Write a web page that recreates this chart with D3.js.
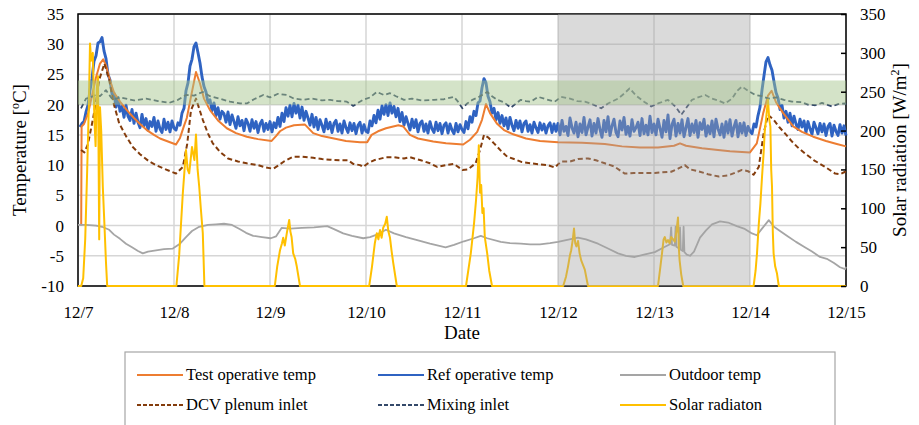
<!DOCTYPE html>
<html><head><meta charset="utf-8">
<script src="https://cdn.jsdelivr.net/npm/d3@7"></script>
<style>
body{margin:0;background:#fff}
svg text{font-family:"Liberation Serif","Times New Roman",Tinos,"DejaVu Serif",serif !important}
</style>
</head><body>
<svg id="c" width="919" height="425"></svg>
<script>
// ---------- DATA (hours since 12/7 00:00) ----------
const dayLabels = ["12/7","12/8","12/9","12/10","12/11","12/12","12/13","12/14","12/15"];
const tempTicks = [-10,-5,0,5,10,15,20,25,30,35];
const solarTicks = [0,50,100,150,200,250,300,350];
const comfortBand = [20,24];
const shadedDays = [5,7]; // 12/12 .. 12/14

const testOp = [[0.8,0],[0.9,16.4],[1.5,16.8],[2.5,18.5],[3.5,21.5],[4.5,24.5],[5.5,26.8],[6.3,27.5],[7,26.5],[8,24],[9,22],[10.5,20.5],[12.2,19.1],[14,17.8],[15.5,16.8],[17.2,15.8],[19,15],[20.5,14.4],[22.5,13.9],[24.5,13.4],[25.5,14.5],[26.5,16.5],[27.2,17.8],[28.3,21.5],[29.5,25.4],[30.5,23.5],[31.5,21],[33,19.1],[35,17.4],[37.2,16.1],[39.5,15.3],[42.2,14.7],[45,14.3],[48.4,14.0],[49.5,14.8],[50.5,15.6],[52,16.2],[54,16.6],[56.75,16.7],[58.8,15.3],[61,14.8],[64,14.4],[67,14.0],[70.5,13.8],[72.3,13.8],[73.4,15.0],[75,15.6],[77,16.1],[80.1,16.6],[81.3,16.4],[83,15.0],[85,14.4],[88.8,13.9],[92,13.6],[96.3,13.4],[98,14.2],[99.8,15.5],[101,17.5],[102,20.1],[103,18.6],[104.7,16.9],[106.5,15.8],[108.8,15.1],[112,14.4],[115.5,14.0],[120,13.8],[126,13.7],[131.7,13.5],[136,13.1],[140.5,12.9],[145,12.9],[149,13.2],[150.5,13.6],[152,13.2],[156,12.8],[160,12.5],[163,12.3],[168,12.1],[169.7,13.6],[171.3,18.6],[172.5,21.5],[173.4,22.3],[174.5,20.4],[176.3,18.6],[178.8,16.4],[181,15.5],[183.8,14.7],[187,14.0],[189.7,13.5],[192,13.1]];

// Ref operative temp, half-hourly readings from 0.5 h to 192 h
const refOpStart = 0.5, refOpStep = 0.5;
const refOp = [
16.3,16.9,17.2,18.8,19.9,22.4,24.3,27.2,28.1,30.2,30.4,31.1,28.9,27.6,25.0,24.1,21.8,21.9,19.6,21.2,18.9,19.7,17.9,19.9,18.1,17.4,19.2,16.9,18.6,17.1,16.2,18.4,16.5,17.7,15.8,17.2,16.4,17.9,15.6,17.3,16.0,15.4,17.6,15.9,17.1,15.5,17.3,16.1,
15.8,17.0,16.6,18.6,19.4,22.3,23.6,26.4,27.5,29.6,30.2,28.6,26.9,24.6,23.0,22.1,20.3,20.8,19.0,20.3,18.2,19.5,17.6,18.9,18.5,17.1,18.8,16.7,18.3,17.2,16.1,18.0,16.5,17.4,15.7,17.6,16.9,15.6,17.5,16.1,17.2,15.4,16.8,17.4,15.6,16.9,15.9,17.2,
15.5,17.0,16.2,17.9,16.4,18.6,17.2,19.5,18.1,19.9,18.0,20.2,18.6,19.9,17.8,19.6,17.4,18.9,17.8,16.6,18.4,16.3,17.9,15.9,17.5,16.6,15.5,17.6,16.0,17.1,15.4,16.9,17.4,15.6,16.8,15.3,17.3,16.2,15.4,17.0,15.7,16.9,15.2,16.6,17.1,15.3,16.7,15.6,
15.4,17.3,16.5,18.2,17.0,19.1,17.6,19.8,18.4,20.0,18.2,20.3,18.6,19.7,18.0,19.4,17.2,18.7,16.6,18.0,16.9,15.8,17.6,16.2,17.5,15.5,16.9,17.3,15.6,16.8,15.3,17.2,16.0,15.4,17.1,15.7,16.9,15.2,16.6,17.0,15.3,16.8,15.8,15.2,16.9,15.5,16.7,15.9,
15.4,17.2,16.0,18.0,17.1,18.9,18.2,20.3,20.6,22.8,24.3,23.6,21.4,20.5,18.6,19.4,17.5,18.7,16.9,18.2,16.5,17.8,16.0,17.9,16.6,15.7,17.4,16.1,17.3,15.5,16.9,17.3,15.6,16.7,15.3,17.1,16.2,15.4,17.0,15.8,16.8,15.3,16.5,17.0,15.4,16.8,15.6,16.9,
15.0,17.4,15.6,16.4,14.9,17.8,16.2,15.3,17.1,14.7,16.8,15.4,17.9,15.0,16.3,17.5,14.8,16.9,15.3,17.7,15.9,14.6,17.4,15.5,18.0,14.9,16.5,17.6,15.4,14.7,17.3,15.8,17.9,15.1,16.4,14.8,17.5,15.6,16.2,17.1,14.9,17.7,15.2,16.6,15.0,18.1,15.4,16.8,
15.0,17.6,16.1,14.6,17.4,15.5,18.3,14.4,16.7,17.6,14.8,16.9,15.3,17.5,14.7,16.2,17.7,14.9,16.8,15.4,17.4,14.6,17.0,15.9,17.6,14.8,16.5,15.2,17.3,14.7,17.6,16.0,15.0,16.8,14.6,17.2,15.3,17.5,14.8,16.3,17.4,14.7,16.9,15.3,17.0,14.9,16.4,15.6,
15.2,16.8,16.3,18.2,19.6,22.4,24.8,27.1,27.8,26.6,25.7,23.8,22.0,21.1,19.2,19.9,17.8,18.9,17.1,18.6,16.5,18.1,16.8,15.9,17.6,16.3,17.3,15.4,17.2,16.0,15.1,17.1,16.2,15.2,16.9,15.5,16.8,14.9,16.4,16.9,14.8,16.6,15.6,14.9,16.7,15.3,16.5,14.9
];

const outdoor = [[0,0.1],[2,0.1],[4.5,0],[6,-0.2],[7.8,-0.7],[9,-1.5],[10.5,-2.2],[12,-3.0],[13.5,-3.6],[15,-4.2],[16.2,-4.6],[17.5,-4.3],[19.5,-4.1],[21.5,-3.9],[23.7,-3.8],[25.5,-3.0],[27,-1.9],[28.5,-0.9],[30.3,-0.2],[32.5,0.1],[34.5,0.2],[36.5,0.3],[38.5,0.1],[40.5,-0.6],[42,-1.2],[43.8,-1.7],[46,-1.9],[48.2,-2.1],[49.5,-1.8],[50.9,-0.4],[53,-0.5],[56,-0.4],[59,-0.3],[62.3,-0.1],[64,-0.6],[66.3,-1.3],[68.5,-1.7],[71.3,-2.1],[73,-1.9],[74.7,-1.5],[77,-0.7],[79,-1.3],[82,-1.9],[84.8,-2.4],[88,-3.0],[91.9,-3.6],[94,-3.2],[96.5,-2.6],[99,-2.1],[100.7,-1.7],[102.3,-2.1],[105.7,-2.7],[108,-2.9],[110.7,-3.0],[113,-3.1],[115.5,-3.1],[118,-2.9],[120,-2.7],[122,-2.4],[125,-2.0],[127,-2.3],[130,-3.0],[132.5,-3.8],[135,-4.6],[137,-5.0],[139.2,-5.2],[141.5,-4.8],[144.2,-4.4],[146.5,-3.6],[148,-3.1],[148.3,-0.3],[148.5,-3.2],[149.2,-3.3],[149.4,-0.2],[149.6,-3.5],[150.3,-3.8],[150.5,-0.3],[150.7,-4.0],[151.2,-4.2],[151.4,-0.2],[151.6,-4.4],[152.2,-4.8],[153,-5.0],[154,-4.3],[155.5,-2.0],[157,-0.8],[158.5,0.2],[160.5,0.7],[162.5,0.5],[164.7,-0.1],[166.5,-0.5],[168.5,-1.3],[169.7,-1.6],[171,-0.5],[172.7,0.9],[174,-0.2],[175.5,-0.9],[177.5,-1.8],[179.5,-2.7],[181.5,-3.5],[183.5,-4.3],[185.5,-5.2],[187.2,-5.5],[189,-6.2],[190.5,-6.9],[191.8,-7.2],[192,-6.8]];

const dcvInlet = [[0.75,12.5],[1.6,12.1],[2.5,13.5],[3.7,17.5],[4.5,20.5],[5.3,24.1],[6.6,26.8],[7.8,24.1],[9,20],[10.3,16.9],[12,14.8],[13.7,13.0],[15.5,11.8],[17.8,10.6],[19.5,10.0],[21.2,9.5],[23,9.0],[24.5,8.6],[26.2,9.7],[27.3,13.5],[28.25,19.1],[29.5,21.0],[31.2,17.5],[32.5,15.2],[33.7,13.6],[35.5,12.2],[37.5,11.1],[40,10.6],[42.2,10.3],[45,10.0],[47,9.6],[48.8,9.4],[50,9.9],[51.5,10.6],[53.8,11.4],[56,11.4],[58.8,11.2],[61,11.0],[63,10.9],[65.5,10.8],[67.5,10.8],[68.8,10.2],[70.5,10.0],[71.3,9.7],[72.5,10.3],[74,10.8],[77,11.3],[79,11.3],[81.5,11.1],[83,11.3],[85.7,10.8],[88,10.3],[89.8,9.7],[92,10.0],[94,10.2],[96.1,9.2],[97.5,9.3],[99.4,10.3],[100.5,12.5],[101.5,15.0],[102.5,14.6],[104,13.6],[105.7,12.4],[107.3,11.4],[109,11.0],[111,10.5],[113.2,10.3],[115.5,10.1],[117.5,10.0],[119.2,9.6],[120.8,10.6],[123,10.6],[125,11.0],[127.5,11.1],[129.5,10.8],[131.7,10.3],[134,9.8],[136.7,8.6],[139,8.7],[141.5,8.7],[144.2,8.7],[146,8.8],[148.3,8.9],[150,9.4],[151.7,10.0],[153,9.3],[155,9.0],[157.5,8.5],[160.2,8.1],[162.5,8.3],[164.5,8.8],[166,9.2],[167.5,9.0],[168.9,8.4],[170.2,9.7],[171.4,15.2],[172.5,18.3],[173.9,17.5],[175.3,16.3],[176.8,15.2],[178.5,13.9],[180,12.9],[181.8,11.9],[184,10.8],[186.8,9.7],[189.3,8.6],[190.5,8.5],[191.8,8.9],[192,9.0]];

const mixingInlet = [[0.75,19.4],[2,21.0],[3,21.2],[4.5,21.6],[5.5,21.4],[7,22.4],[8.7,20.8],[10.5,21.2],[12,21.0],[14,20.7],[17,21.0],[20,20.6],[22.8,20.3],[25,20.8],[27,21.6],[29,21.5],[31.2,22.1],[33,21.4],[35.3,21.0],[38,20.5],[40.5,20.2],[42.2,20.2],[44,20.9],[46.3,21.6],[48,21.2],[50,21.8],[52.2,21.6],[54,21.0],[56.3,20.8],[58.5,21.0],[61,20.7],[63,20.8],[65,20.6],[67.2,20.5],[68.8,19.8],[70,20.3],[71.3,20.8],[73,21.2],[74.7,22.1],[76.5,21.6],[78,21.9],[79.5,21.4],[81.5,20.8],[83.5,21.0],[86,20.7],[89,20.8],[91.5,20.9],[94,21.3],[95,20.5],[96.1,19.4],[97.3,20.2],[98.6,20.8],[100,21.2],[102.3,22.1],[103.5,21.4],[104.8,20.8],[106.5,20.4],[108.2,19.5],[109.5,20.2],[110.7,20.8],[112,20.6],[113.2,20.5],[115,21.3],[117,20.9],[119.2,20.5],[120.8,21.3],[123,21.0],[124.8,20.6],[126.7,20.5],[128.5,20.1],[130.8,19.4],[132.5,20.2],[135,21.0],[136.5,21.8],[137.9,22.7],[139.5,21.5],[141.5,20.5],[143.3,19.7],[145,20.2],[147.5,20.8],[149.5,19.6],[150.8,18.3],[152,19.4],[153.5,20.8],[155,21.2],[156.8,21.6],[158.5,21.0],[160,20.7],[161.8,20.2],[163.5,21.0],[164.8,22.3],[166,23.0],[167.5,22.3],[169.3,21.6],[171,21.4],[172.7,21.0],[174.5,21.2],[176.5,20.8],[178.5,20.5],[181,20.4],[182.5,20.0],[184.3,19.9],[186,20.3],[188.5,19.7],[190,20.1],[191.8,20.2],[192,20.0]];

const solar = [[0,0],[0.8,0],[1.3,10],[1.8,60],[2.3,150],[2.7,230],[3.0,312],[3.3,290],[3.7,300],[4.1,215],[4.4,180],[4.7,255],[5.0,270],[5.3,60],[5.5,230],[5.8,200],[6.2,128],[6.6,80],[7.0,30],[7.3,0],
[24.6,0],[25.3,40],[26.2,119],[27,175],[27.4,150],[27.8,145],[28.5,179],[29.1,162],[29.5,195],[29.9,150],[30.3,128],[30.7,100],[31.2,68],[31.6,0],
[49.2,0],[49.8,25],[50.5,46],[51,55],[51.3,62],[51.7,52],[52.2,68],[52.8,85],[53.1,70],[53.4,63],[53.8,42],[54.3,35],[54.7,25],[55.5,0],
[72.8,0],[73.5,25],[74.2,55],[74.7,68],[75.1,60],[75.5,72],[75.9,62],[76.3,75],[76.8,80],[77.2,89],[77.6,70],[78,62],[78.4,45],[78.8,30],[79.7,0],
[97.0,0],[98.2,42],[99.0,80],[99.5,110],[99.9,140],[100.2,181],[100.5,120],[100.8,130],[101.1,94],[101.4,100],[101.7,63],[102.3,42],[102.8,20],[103.5,0],
[121.3,0],[122.0,12],[122.5,25],[123.0,40],[123.3,46],[123.7,60],[124.0,74],[124.3,55],[124.6,51],[125.0,58],[125.4,42],[125.8,33],[126.7,21],[127.5,0],
[145.0,0],[145.6,25],[146.0,42],[146.4,60],[146.7,63],[147.1,56],[147.5,59],[147.9,55],[148.3,63],[148.8,60],[149.2,57],[149.6,70],[150.0,88],[150.2,50],[150.4,33],[150.8,15],[151.3,0],
[168.9,0],[169.4,20],[169.75,42],[170.2,80],[170.6,106],[171.0,140],[171.4,171],[171.7,200],[172.0,214],[172.3,230],[172.5,240],[172.8,215],[173.1,205],[173.3,150],[173.5,128],[173.7,70],[173.9,42],[174.3,25],[174.75,16],[175.2,0],[192,0]];

const legendItems = [
  {name:"Test operative temp", key:"test"},
  {name:"Ref operative temp", key:"ref"},
  {name:"Outdoor temp", key:"out"},
  {name:"DCV plenum inlet", key:"dcv"},
  {name:"Mixing inlet", key:"mix"},
  {name:"Solar radiaton", key:"sol"}
];

// ---------- STYLE ----------
const style = {
  test:{color:"#ED7D31", width:2, dash:null},
  ref:{color:"#2F63C2", width:2.9, dash:null},
  out:{color:"#A5A5A5", width:1.8, dash:null},
  dcv:{color:"#843C0C", width:2, dash:"5,3"},
  mix:{color:"#34496A", width:1.8, dash:"5,3"},
  sol:{color:"#FFC000", width:2, dash:null}
};
const FONT = '"Liberation Serif","Times New Roman",Tinos,"DejaVu Serif",serif';

// ---------- LAYOUT ----------
const svg = d3.select("#c");
const L = 78, R = 846, T = 14, B = 286;
const x = d3.scaleLinear().domain([0,192]).range([L,R]);
const y = d3.scaleLinear().domain([-10,35]).range([B,T]);
const y2 = d3.scaleLinear().domain([0,350]).range([B,T]);

// gridlines
svg.append("g").selectAll("line").data(tempTicks).join("line")
  .attr("x1",L).attr("x2",R).attr("y1",d=>y(d)).attr("y2",d=>y(d))
  .attr("stroke","#d6d6d6").attr("stroke-width",1.5);
svg.append("g").selectAll("line").data(dayLabels).join("line")
  .attr("x1",(d,i)=>x(i*24)).attr("x2",(d,i)=>x(i*24)).attr("y1",T).attr("y2",B)
  .attr("stroke","#d6d6d6").attr("stroke-width",1.5);

const lineT = d3.line().x(d=>x(d[0])).y(d=>y(d[1]));
const lineS = d3.line().x(d=>x(d[0])).y(d=>y2(d[1]));

function draw(data, gen, st){
  svg.append("path").datum(data).attr("d",gen).attr("fill","none")
    .attr("stroke",st.color).attr("stroke-width",st.width)
    .attr("stroke-dasharray",st.dash).attr("stroke-linejoin","round");
}
svg.append("rect").attr("x",L).attr("y",T).attr("width",R-L).attr("height",B-T)
  .attr("fill","none").attr("stroke","#000").attr("stroke-width",1.5);

const refPairs = refOp.map((v,i)=>[refOpStart+i*refOpStep, v]);
draw(refPairs, lineT, style.ref);
draw(testOp, lineT, style.test);
draw(outdoor, lineT, style.out);
draw(dcvInlet, lineT, style.dcv);
draw(mixingInlet, lineT, style.mix);
draw(solar, lineS, style.sol);

svg.append("rect").attr("x",x(shadedDays[0]*24)).attr("width",x(shadedDays[1]*24)-x(shadedDays[0]*24))
  .attr("y",T).attr("height",B-T).attr("fill","#a3a3a3").attr("opacity",0.4);
svg.append("rect").attr("x",L).attr("width",R-L)
  .attr("y",y(comfortBand[1])).attr("height",y(comfortBand[0])-y(comfortBand[1]))
  .attr("fill","#a6c48c").attr("opacity",0.48);

// axes
const fs = 17;
const axL = svg.append("g").attr("transform",`translate(${L},0)`)
  .call(d3.axisLeft(y).tickValues(tempTicks).tickSize(0).tickPadding(14).tickFormat(d3.format("d")));
const axR = svg.append("g").attr("transform",`translate(${R},0)`)
  .call(d3.axisRight(y2).tickValues(solarTicks).tickSizeInner(-5).tickSizeOuter(0).tickPadding(14));
const axB = svg.append("g").attr("transform",`translate(0,${B})`)
  .call(d3.axisBottom(x).tickValues(dayLabels.map((d,i)=>i*24)).tickSize(0).tickPadding(20)
  .tickFormat((d,i)=>dayLabels[i]));
[axL,axR,axB].forEach(a=>{
  a.attr("font-family",FONT);
  a.select(".domain").remove();
  a.selectAll("text").attr("font-size",fs).attr("font-family",FONT).attr("fill","#000");
  a.selectAll("line").attr("stroke","#000").attr("stroke-width",1.5);
});
axL.selectAll("text").text(d=> d<0 ? "-"+Math.abs(d) : d);

// titles
const t1 = svg.append("text").attr("transform",`translate(26,${(T+B)/2}) rotate(-90)`)
  .attr("text-anchor","middle").attr("font-size",19).attr("font-family",FONT);
t1.append("tspan").text("Temperature [");
t1.append("tspan").text("o").attr("font-size",12).attr("dy",-7);
t1.append("tspan").text("C]").attr("dy",7);
const t2 = svg.append("text").attr("transform",`translate(906,${(T+B)/2}) rotate(-90)`)
  .attr("text-anchor","middle").attr("font-size",19).attr("font-family",FONT);
t2.append("tspan").text("Solar radiation [W/m");
t2.append("tspan").text("2").attr("font-size",12).attr("dy",-7);
t2.append("tspan").text("]").attr("dy",7);
svg.append("text").attr("x",(L+R)/2).attr("y",339).attr("text-anchor","middle")
  .attr("font-size",19).attr("font-family",FONT).text("Date");

// legend
svg.append("rect").attr("x",125).attr("y",352).attr("width",710).attr("height",90)
  .attr("fill","#fff").attr("stroke","#a6a6a6").attr("stroke-width",1.2);
const colX = [137,378,620], rowY = [375,405];
const lg = svg.append("g").selectAll("g").data(legendItems).join("g")
  .attr("transform",(d,i)=>`translate(${colX[i%3]},${rowY[Math.floor(i/3)]})`);
lg.append("line").attr("x1",0).attr("x2",46).attr("y1",0).attr("y2",0)
  .attr("stroke",d=>style[d.key].color).attr("stroke-width",2)
  .attr("stroke-dasharray",d=>style[d.key].dash ? "4,2" : null);
lg.append("text").attr("x",49).attr("y",5).attr("font-size",16.5).attr("font-family",FONT).text(d=>d.name);
</script>
</body></html>
